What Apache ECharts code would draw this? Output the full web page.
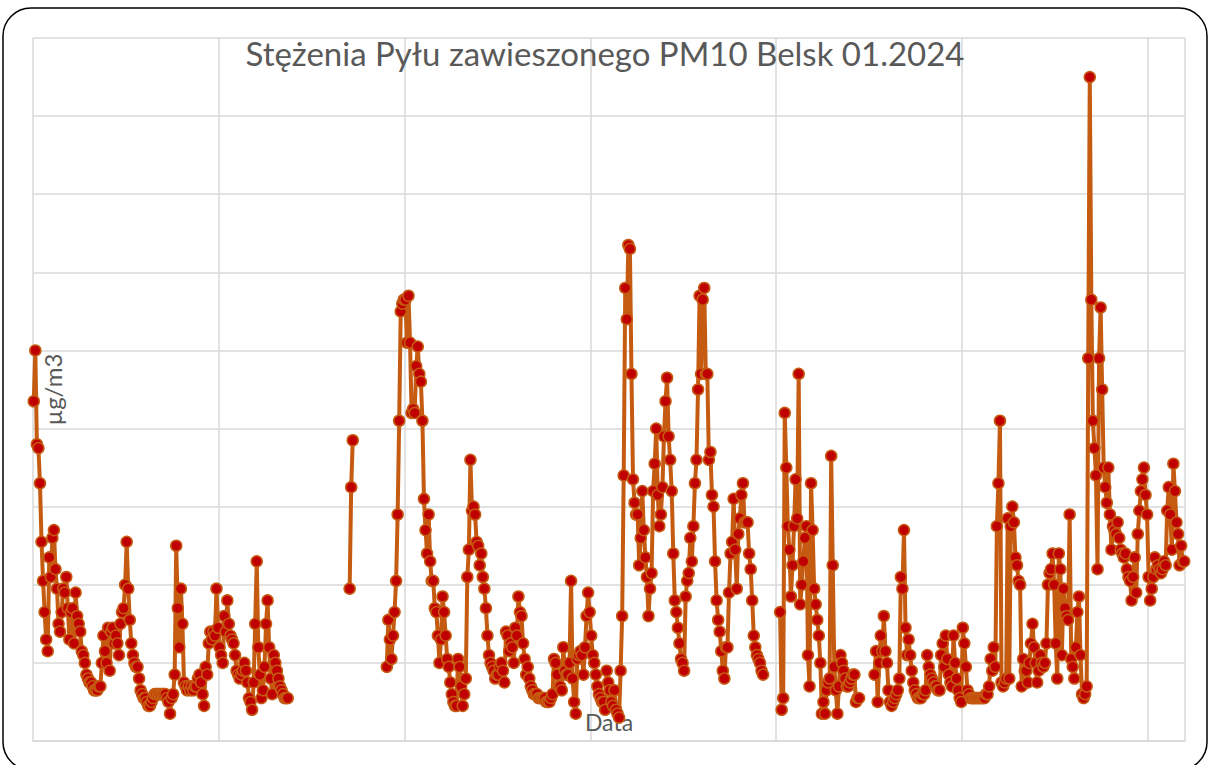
<!DOCTYPE html>
<html>
<head>
<meta charset="utf-8">
<title>PM10 Belsk 01.2024</title>
<script src="https://cdn.jsdelivr.net/npm/echarts@6/dist/echarts.min.js"></script>
<style>
  html, body { margin: 0; padding: 0; background: #fff; }
  #chart { width: 1210px; height: 765px; }
</style>
</head>
<body>
<div id="chart"></div>
<script>
const days01_05 = [
  87, 100, 76, 75, 66, 51, 41, 33, 26, 23,
  47, 42, 52, 54, 44, 39, 30, 28, 33, 39,
  38, 42, 34, 26, 33, 34, 25, 38, 32, 30,
  28, 23, 22, 20, 17, 16, 15, 15, 14, 13,
  13, 13, 14, 14, 20, 27, 23, 20, 29, 18,
  28, 29, 25, 27, 25, 22, 30, 33, 34, 40,
  51, 39, 31, 25, 22, 20, 19, 19, 16, 13,
  12, 11, 11, 10, 9, 9, 10, 11, 12, 12,
  12, 12, 12, 12, 12, 12, 11, 10, 7, 11,
  12, 17, 50, 34, 24, 39, 30, 15, 14, 13,
  14, 13, 14, 13, 14, 14, 16, 17, 15, 12,
  9, 19, 17, 25, 28, 26, 28, 27, 39, 29
];
const days06_10 = [
  24, 22, 20, 32, 28, 36, 30, 27, 26, 25,
  22, 18, 17, 16, 17, 18, 20, 18, 15, 11,
  10, 8, 15, 30, 46, 24, 17, 11, 13, 19,
  30, 36, 24, 16, 12, 22, 20, 18, 16, 14,
  13, 12, 11, 11, 11, null, null, null, null, null,
  null, null, null, null, null, null, null, null, null, null,
  null, null, null, null, null, null, null, null, null, null,
  null, null, null, null, null, null, null, null, null, null,
  null, null, null, null, 39, 65, 77, null, null, null,
  null, null, null, null, null, null, null, null, null, null,
  null, null, null, null, null, null, null, null, 19, 31,
  26, 21, 27, 33, 41, 58, 82, 110, 112, 113
];
const days11_15 = [
  113, 102, 114, 102, 84, 85, 84, 96, 101, 94,
  92, 82, 62, 54, 48, 58, 46, 41, 41, 34,
  33, 27, 20, 26, 37, 33, 27, 21, 19, 15,
  12, 10, 9, 9, 21, 19, 14, 9, 12, 16,
  42, 49, 72, 59, 60, 58, 51, 50, 45, 48,
  42, 39, 34, 27, 22, 20, 19, 18, 16, 17,
  17, 19, 20, 18, 15, 28, 27, 23, 25, 24,
  20, 29, 27, 37, 33, 32, 25, 21, 17, 19,
  16, 14, 13, 12, 12, 12, 11, 11, 11, 11,
  11, 10, 10, 10, 11, 12, 21, 20, 17, 14,
  14, 13, 24, 18, 17, 17, 20, 41, 16, 10,
  7, 21, 22, 23, 22, 17, 24, 32, 38, 33
];
const days16_20 = [
  27, 22, 20, 17, 14, 12, 11, 10, 10, 8,
  18, 15, 13, 10, 9, 13, 8, 7, 6, 18,
  32, 68, 116, 108, 127, 126, 94, 67, 61, 58,
  58, 45, 52, 64, 54, 47, 42, 32, 39, 43,
  64, 71, 80, 63, 55, 58, 65, 78, 87, 93,
  78, 72, 64, 48, 36, 33, 29, 25, 21, 20,
  18, 37, 41, 43, 52, 46, 55, 66, 72, 90,
  114, 94, 113, 116, 94, 94, 72, 74, 63, 60,
  46, 36, 31, 28, 23, 18, 16, 24, 24, 38,
  48, 51, 62, 49, 39, 53, 57, 63, 66, 56,
  56, 56, 48, 44, 36, 27, 24, 22, 21, 20,
  18, 17, null, null, null, null, null, null, null, null
];
const days21_25 = [
  null, null, 33, 8, 11, 84, 70, 55, 49, 37,
  45, 55, 67, 57, 94, 35, 40, 46, 52, 55,
  22, 14, 66, 54, 39, 35, 31, 27, 20, 7,
  10, 7, 13, 15, 16, 73, 45, 19, 13, 7,
  14, 22, 20, 18, 16, 14, 14, 15, 16, 17,
  17, 10, 11, 11, null, null, null, null, null, null,
  null, null, null, 17, 23, 10, 20, 27, 23, 32,
  23, 20, 13, 10, 9, 10, 11, 12, 13, 16,
  42, 39, 54, 29, 22, 26, 22, 18, 15, 13,
  12, 11, 11, 11, 12, 12, 13, 22, 19, 17,
  16, 15, 14, 14, 13, 13, 22, 25, 19, 27,
  21, 17, 15, 14, 27, 20, 16, 13, 11, 10
];
const days26_30 = [
  29, 25, 19, 13, 12, 11, 11, 11, 11, 11,
  11, 11, 11, 11, 11, 12, 12, 14, 21, 18,
  24, 19, 55, 66, 82, 15, 14, 15, 16, 57,
  16, 55, 60, 56, 47, 45, 41, 40, 14, 21,
  18, 18, 15, 20, 25, 30, 24, 20, 15, 18,
  22, 20, 19, 20, 25, 40, 43, 44, 48, 40,
  25, 16, 48, 44, 22, 39, 34, 32, 31, 58,
  21, 19, 16, 24, 33, 37, 22, 12, 11, 12,
  14, 98, 170, 113, 82, 75, 68, 44, 98, 111,
  90, 70, 65, 61, 70, 58, 49, 55, 54, 53,
  56, 52, 49, 48, 47, 48, 44, 42, 41, 36,
  42, 47, 38, 53, 59, 64, 67, 70, 63, 58
];
const day31 = [
  42, 36, 39, 42, 47, 44, 45, 44, 43, 44,
  46, 45, 59, 65, 58, 49, 71, 64, 56, 53,
  45, 50, 46, 46
];

const pm10 = [].concat(days01_05, days06_10, days11_15, days16_20, days21_25, days26_30, day31);

// one category per hour of January 2024
const hours = [];
for (let d = 1; d <= 31; d++) {
  for (let h = 1; h <= 24; h++) {
    hours.push(String(d).padStart(2, '0') + '.01.2024 ' + String(h).padStart(2, '0') + ':00');
  }
}

const FONT = 'Lato, "Open Sans", sans-serif';
const GRID = '#D9D9D9';

const chart = echarts.init(document.getElementById('chart'), null, { renderer: 'svg' });

chart.setOption({
  animation: false,
  backgroundColor: '#ffffff',
  title: {
    text: 'Stężenia Pyłu zawieszonego PM10 Belsk 01.2024',
    left: 'center',
    top: 31,
    textStyle: { fontFamily: FONT, fontSize: 33, fontWeight: 'normal', color: '#595959' }
  },
  grid: { left: 33, right: 25, top: 38, bottom: 24 },
  xAxis: {
    type: 'category',
    data: hours,
    boundaryGap: true,
    name: 'Data',
    nameLocation: 'middle',
    nameGap: -31,
    nameTextStyle: { fontFamily: FONT, fontSize: 23, color: '#595959' },
    axisLine: { lineStyle: { color: GRID, width: 1.5 } },
    axisTick: { show: false },
    axisLabel: { show: false },
    splitLine: {
      show: true,
      interval: (i) => i % 120 === 0,
      lineStyle: { color: GRID, width: 1.5 }
    }
  },
  yAxis: {
    type: 'value',
    min: 0,
    max: 180,
    interval: 20,
    name: 'µg/m3',
    nameLocation: 'middle',
    nameRotate: 90,
    nameGap: -31,
    nameTextStyle: { fontFamily: FONT, fontSize: 24, color: '#595959' },
    axisLine: { show: false },
    axisTick: { show: false },
    axisLabel: { show: false },
    splitLine: { lineStyle: { color: GRID, width: 1.5 } }
  },
  series: [
    {
      type: 'line',
      data: pm10,
      symbol: 'circle',
      symbolSize: 11,
      showAllSymbol: true,
      connectNulls: false,
      lineStyle: { color: '#C55A11', width: 4 },
      itemStyle: { color: '#C00000', borderColor: '#C55A11', borderWidth: 1.5 },
      emphasis: { disabled: true }
    }
  ],
  graphic: [
    {
      type: 'rect',
      silent: true,
      z: 100,
      shape: { x: 3, y: 8, width: 1204, height: 762, r: 28 },
      style: { fill: 'none', stroke: '#000000', lineWidth: 1.5 }
    }
  ]
});
</script>
</body>
</html>
